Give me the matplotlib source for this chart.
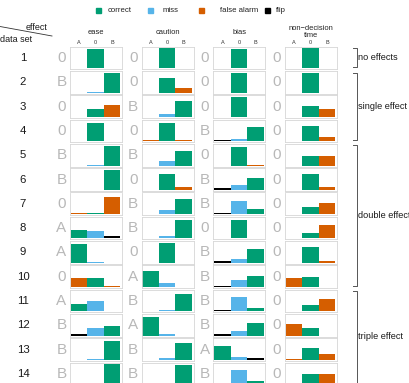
import matplotlib.pyplot as plt
from matplotlib.patches import Rectangle
from matplotlib.lines import Line2D

plt.rcParams["font.family"] = ["Liberation Sans", "DejaVu Sans"]

# ---- data -----------------------------------------------------------------
effects = ["ease", "caution", "bias", "non\u2212decision\ntime"]
responses = ["A", "0", "B"]
datasets = list(range(1, 15))
groups = [("no effects", 1, 1), ("single effect", 2, 4),
          ("double effect", 5, 10), ("triple effect", 11, 14)]

# true effect direction per data set
truth_ease    = list("0B00BB0AA0ABBB")
truth_caution = list("00B0B0BB0ABABB")
truth_bias    = list("000B0BB0BBBBAB")
truth_ndt     = list("00000000000000")

# proportion of fits choosing A / 0 / B
prop_ease = [
    [0.03, 0.97, 0.00], [0.00, 0.04, 0.96], [0.00, 0.38, 0.60],
    [0.03, 0.93, 0.03], [0.00, 0.04, 0.96], [0.00, 0.00, 1.00],
    [0.04, 0.08, 0.87], [0.42, 0.38, 0.10], [0.93, 0.06, 0.00],
    [0.45, 0.45, 0.05], [0.36, 0.52, 0.04], [0.08, 0.40, 0.47],
    [0.00, 0.05, 0.93], [0.00, 0.00, 1.00],
]
prop_caution = [
    [0.00, 1.00, 0.00], [0.00, 0.73, 0.25], [0.00, 0.15, 0.80],
    [0.04, 0.93, 0.04], [0.00, 0.22, 0.72], [0.00, 0.80, 0.16],
    [0.00, 0.23, 0.76], [0.00, 0.10, 0.90], [0.00, 0.97, 0.00],
    [0.80, 0.18, 0.00], [0.00, 0.08, 0.88], [0.95, 0.10, 0.00],
    [0.00, 0.10, 0.86], [0.00, 0.06, 0.95],
]
prop_bias = [
    [0.04, 0.97, 0.00], [0.00, 1.00, 0.00], [0.00, 1.00, 0.00],
    [0.05, 0.12, 0.70], [0.00, 0.93, 0.04], [0.08, 0.25, 0.58],
    [0.04, 0.66, 0.25], [0.04, 0.93, 0.04], [0.08, 0.20, 0.70],
    [0.05, 0.36, 0.56], [0.05, 0.72, 0.18], [0.08, 0.25, 0.62],
    [0.70, 0.15, 0.12], [0.00, 0.72, 0.15],
]
prop_ndt = [
    [0.00, 1.00, 0.00], [0.00, 1.00, 0.00], [0.00, 0.55, 0.40],
    [0.00, 0.75, 0.20], [0.00, 0.50, 0.46], [0.00, 0.80, 0.15],
    [0.00, 0.38, 0.56], [0.00, 0.28, 0.66], [0.00, 0.80, 0.08],
    [0.46, 0.50, 0.00], [0.00, 0.33, 0.62], [0.56, 0.40, 0.00],
    [0.04, 0.58, 0.32], [0.00, 0.50, 0.50],
]

truths = [truth_ease, truth_caution, truth_bias, truth_ndt]
props = [prop_ease, prop_caution, prop_bias, prop_ndt]

outcomes = ["correct", "miss", "false alarm", "flip"]
COLORS = {"correct": "#009E73", "miss": "#56B4E9",
          "false alarm": "#D55E00", "flip": "#000000"}


def outcome(truth, resp):
    if resp == truth:
        return "correct"
    if truth == "0":
        return "false alarm"
    if resp == "0":
        return "miss"
    return "flip"


# ---- layout (pixels) ------------------------------------------------------
W, H = 409, 383
fig = plt.figure(figsize=(W / 100, H / 100), dpi=100)


def fx(x):
    return x / W


def fy(y):
    return 1 - y / H


CELL_X0, CELL_DX, CELL_W = 70, 71.7, 52
CELL_Y0, CELL_DY, CELL_H = 46.7, 24.3, 22.6

for j, eff in enumerate(effects):
    left = CELL_X0 + j * CELL_DX
    fig.text(fx(left + CELL_W / 2), fy(32), eff, ha="center", va="center",
             fontsize=5.4, color="#222222", linespacing=1.15)
    for i in range(len(datasets)):
        top = CELL_Y0 + i * CELL_DY
        ax = fig.add_axes([fx(left), fy(top + CELL_H), CELL_W / W, CELL_H / H])
        t = truths[j][i]
        vals = props[j][i]
        cols = [COLORS[outcome(t, r)] for r in responses]
        ax.bar(range(3), vals, width=1.0, color=cols, linewidth=0)
        ax.set_xlim(-0.54, 2.6)
        ax.set_ylim(-0.05, 1.085)
        ax.set_yticks([])
        for sp in ax.spines.values():
            sp.set_color("#d6d6d6")
            sp.set_linewidth(0.6)
        if i == 0:
            ax.xaxis.tick_top()
            ax.set_xticks(range(3))
            ax.set_xticklabels(responses, fontsize=4, color="#333333")
            ax.tick_params(axis="x", length=0, pad=1.5)
        else:
            ax.set_xticks([])
        fig.text(fx(left - 8.5), fy(top + CELL_H / 2), t, ha="center",
                 va="center", fontsize=11, color="#b8b8b8")

# data set numbers
for i, d in enumerate(datasets):
    fig.text(fx(23), fy(CELL_Y0 + i * CELL_DY + CELL_H / 2), str(d),
             ha="center", va="center", fontsize=8.2, color="#1a1a1a")

# corner header
fig.add_artist(Line2D([fx(0), fx(52)], [fy(26.5), fy(36)], color="#333333",
                      lw=0.6))
fig.text(fx(48), fy(27), "effect", ha="right", va="center", fontsize=6.5,
         color="#1a1a1a")
fig.text(fx(0), fy(40), "data set", ha="left", va="center", fontsize=6.5,
         color="#1a1a1a")

# group brackets
BX = 357
for label, a, b in groups:
    y_top = CELL_Y0 + (a - 1) * CELL_DY + 1.5
    y_bot = CELL_Y0 + (b - 1) * CELL_DY + CELL_H - 2.5
    fig.add_artist(Line2D([fx(BX - 4), fx(BX), fx(BX), fx(BX - 4)],
                          [fy(y_top), fy(y_top), fy(y_bot), fy(y_bot)],
                          color="#555555", lw=0.7))
    fig.text(fx(BX + 1.5), fy((y_top + y_bot) / 2), label, ha="left",
             va="center", fontsize=6.6, color="#1a1a1a")

# legend
leg_sq = [96, 148, 199, 265]
leg_tx = [108, 163, 220, 276]
for o, sx, tx in zip(outcomes, leg_sq, leg_tx):
    fig.add_artist(Rectangle((fx(sx), fy(12.5)), 5 / W, 5 / H,
                             color=COLORS[o], transform=fig.transFigure))
    fig.text(fx(tx), fy(10), o, ha="left", va="center", fontsize=5.6,
             color="#222222")

fig.savefig("out.png", dpi=100)
